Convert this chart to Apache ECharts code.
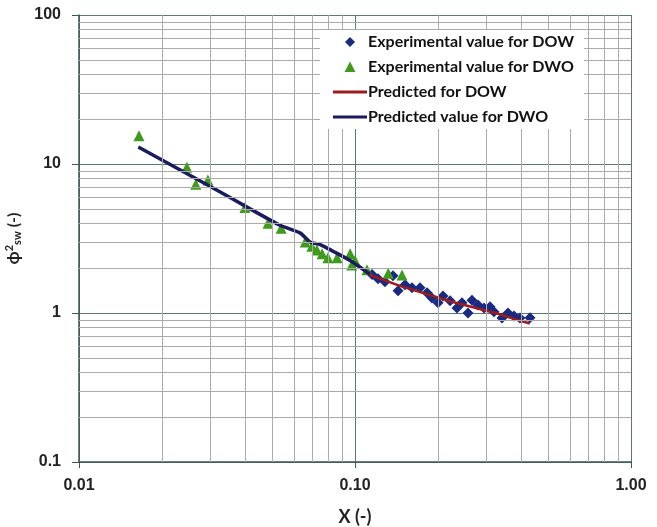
<!DOCTYPE html>
<html>
<head>
<meta charset="utf-8">
<title>phi2 sw vs X</title>
<script src="https://cdn.jsdelivr.net/npm/echarts@6/dist/echarts.min.js"></script>
<style>
html, body { margin: 0; padding: 0; background: #fff; }
#main { width: 657px; height: 527px; }
</style>
</head>
<body>
<div id="main"></div>
<script>
// experimental points, DOW (diamonds)
var dowX = [0.1153, 0.1212, 0.1284, 0.1373, 0.1432, 0.1518, 0.1609, 0.172, 0.1824, 0.190, 0.200, 0.2084, 0.221, 0.2342, 0.2442, 0.2567, 0.2654, 0.2791, 0.2934, 0.3084, 0.3188, 0.3409, 0.3583, 0.3768, 0.396, 0.4305];
var dowY = [1.81, 1.70, 1.62, 1.78, 1.41, 1.55, 1.48, 1.48, 1.37, 1.26, 1.17, 1.30, 1.21, 1.08, 1.17, 1.00, 1.22, 1.13, 1.08, 1.10, 1.02, 0.925, 1.00, 0.954, 0.925, 0.93];
// experimental points, DWO (triangles)
var dwoX = [0.0165, 0.0246, 0.0265, 0.0293, 0.0399, 0.0484, 0.054, 0.066, 0.0698, 0.0728, 0.076, 0.0798, 0.0861, 0.096, 0.0973, 0.1, 0.1105, 0.132, 0.148];
var dwoY = [15.5, 9.5, 7.3, 7.8, 5.1, 4.0, 3.7, 3.0, 2.8, 2.65, 2.5, 2.35, 2.35, 2.5, 2.1, 2.25, 1.95, 1.85, 1.8];
// predicted curves
var predDowX = [0.1133, 0.1455, 0.221, 0.335, 0.386, 0.43];
var predDowY = [1.80, 1.52, 1.20, 0.98, 0.90, 0.85];
var predDwoX = [0.0164, 0.0298, 0.0417, 0.0535, 0.0632, 0.0687, 0.0748, 0.0832, 0.096, 0.1133];
var predDwoY = [13.0, 7.1, 5.0, 3.88, 3.45, 3.0, 2.88, 2.6, 2.25, 1.82];
// minor grid values (2..9 of each decade)
var minorX = [0.02, 0.03, 0.04, 0.05, 0.06, 0.07, 0.08, 0.09, 0.2, 0.3, 0.4, 0.5, 0.6, 0.7, 0.8, 0.9];
var minorY = [0.2, 0.3, 0.4, 0.5, 0.6, 0.7, 0.8, 0.9, 2, 3, 4, 5, 6, 7, 8, 9, 20, 30, 40, 50, 60, 70, 80, 90];

function pairs(xs, ys) {
    return xs.map(function (x, i) { return [x, ys[i]]; });
}

var gridLines = [];
minorX.forEach(function (v) { gridLines.push({ xAxis: v }); });
minorY.forEach(function (v) { gridLines.push({ yAxis: v }); });

// legend icons: the leading moves pin the box to 34x12 so shapes keep their size
var iconBox = 'path://M0,0 M34,12 ';
var icons = {
    diamond: iconBox + 'M17,1 L22,6 L17,11 L12,6 Z',
    triangle: iconBox + 'M17,0.5 L22.5,11 L11.5,11 Z',
    line: iconBox + 'M0,4.5 L34,4.5 L34,7.5 L0,7.5 Z'
};

var labelFont = { color: '#222', fontSize: 16, fontWeight: 'bold', fontFamily: 'Liberation Sans' };

var myChart = echarts.init(document.getElementById('main'));
var option = {
    backgroundColor: '#ffffff',
    animation: false,
    grid: { left: 79, right: 26, top: 15, bottom: 65, outerBoundsMode: 'none', containLabel: false },
    legend: {
        data: [
            { name: 'Experimental value for DOW', icon: icons.diamond },
            { name: 'Experimental value for DWO', icon: icons.triangle },
            { name: 'Predicted for DOW', icon: icons.line },
            { name: 'Predicted value for DWO', icon: icons.line }
        ],
        orient: 'vertical',
        left: 320,
        top: 30,
        z: 20,
        itemWidth: 34,
        itemHeight: 12,
        itemGap: 9,
        padding: [4, 10, 4, 13],
        backgroundColor: '#ffffff',
        textStyle: { color: '#111', fontSize: 16, fontWeight: 'bold', fontFamily: 'Lato', padding: [0, 0, 0, -4] }
    },
    xAxis: {
        type: 'log',
        logBase: 10,
        min: 0.01,
        max: 1,
        name: 'X (-)',
        nameLocation: 'middle',
        nameGap: 46,
        nameTextStyle: { color: '#222', fontSize: 18, fontWeight: 'bold', fontFamily: 'Lato' },
        axisLine: { lineStyle: { color: '#3e5653', width: 1.5 } },
        axisTick: { show: true, length: 6, lineStyle: { color: '#3e5653' } },
        axisLabel: Object.assign({ margin: 16, formatter: function (v) { return Number(v).toFixed(2); } }, labelFont),
        splitLine: { show: true, lineStyle: { color: '#5f7773', width: 1 } }
    },
    yAxis: {
        type: 'log',
        logBase: 10,
        min: 0.1,
        max: 100,
        name: '{phi|\u03d5}{sup|2}{sub|sw}{n| (-)}',
        nameLocation: 'middle',
        nameGap: 46,
        nameRotate: 90,
        nameTextStyle: {
            color: '#222', fontWeight: 'bold', fontFamily: 'Lato',
            rich: {
                phi: { fontSize: 17, fontWeight: 'bold', color: '#222' },
                sup: { fontSize: 11, fontWeight: 'bold', color: '#222', verticalAlign: 'top', padding: [0, 0, 8, 0] },
                sub: { fontSize: 11, fontWeight: 'bold', color: '#222', verticalAlign: 'bottom', padding: [6, 0, 0, 0] },
                n: { fontSize: 16, fontWeight: 'bold', color: '#222' }
            }
        },
        axisLine: { show: true, lineStyle: { color: '#3e5653', width: 1.5 } },
        axisTick: { show: true, length: 7, lineStyle: { color: '#3e5653' } },
        axisLabel: Object.assign({ margin: 18, formatter: function (v) { return String(Number(Number(v).toPrecision(3))); } }, labelFont),
        splitLine: { show: true, lineStyle: { color: '#5f7773', width: 1 } }
    },
    series: [
        {
            name: 'minor grid',
            type: 'line',
            data: [],
            z: 1,
            silent: true,
            markLine: {
                silent: true,
                symbol: ['none', 'none'],
                label: { show: false },
                lineStyle: { color: '#aaaaaa', width: 1, type: 'solid' },
                data: gridLines
            }
        },
        {
            name: 'Experimental value for DOW',
            type: 'scatter',
            symbol: 'diamond',
            symbolSize: 11,
            itemStyle: { color: '#1a2a80', opacity: 1 },
            data: pairs(dowX, dowY),
            z: 3
        },
        {
            name: 'Experimental value for DWO',
            type: 'scatter',
            symbol: 'triangle',
            symbolSize: 11,
            itemStyle: { color: '#3e9b1e', opacity: 1 },
            data: pairs(dwoX, dwoY),
            z: 3
        },
        {
            name: 'Predicted for DOW',
            type: 'line',
            symbol: 'none',
            lineStyle: { color: '#9a1c1c', width: 2.5 },
            itemStyle: { color: '#9a1c1c' },
            data: pairs(predDowX, predDowY),
            z: 4
        },
        {
            name: 'Predicted value for DWO',
            type: 'line',
            symbol: 'none',
            smooth: 0.2,
            lineStyle: { color: '#1b1b5e', width: 3.5 },
            itemStyle: { color: '#1b1b5e' },
            data: pairs(predDwoX, predDwoY),
            z: 4
        }
    ]
};
myChart.setOption(option);
</script>
</body>
</html>
